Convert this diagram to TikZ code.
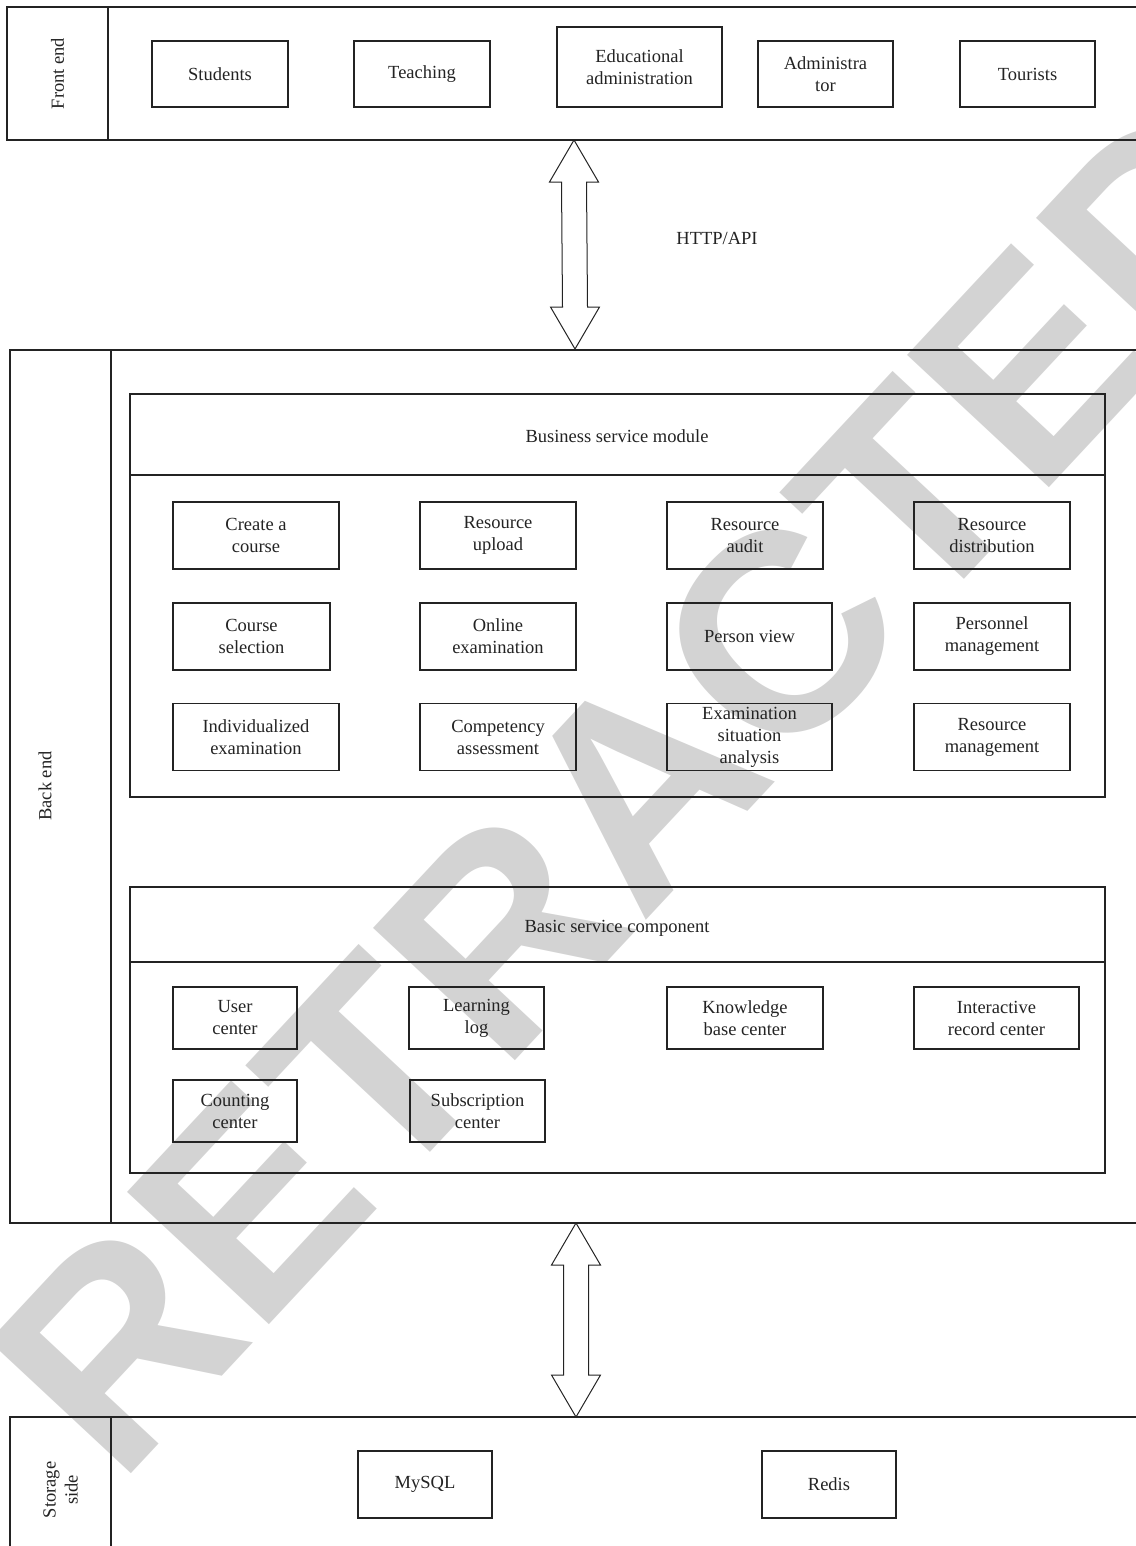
\documentclass[tikz,border=0pt]{standalone}
\usepackage{fontspec}
\setmainfont{Liberation Serif}
\newfontfamily\wmfont{Liberation Sans}
\usetikzlibrary{calc}
\definecolor{wm}{RGB}{211,211,211}
\definecolor{ink}{RGB}{35,35,35}
\tikzset{
  frame/.style={draw=ink, line width=1.2bp},
  box/.style={draw=ink, line width=1.2bp, inner sep=0pt, outer sep=0pt, align=center, minimum height=67bp},
  lbl/.style={inner sep=0pt, align=center},
  arr/.style={draw=ink, line width=1bp, line join=miter},
  wmtext/.style={text=wm, inner sep=0pt, font=\wmfont\bfseries\fontsize{282bp}{282bp}\selectfont}
}
\newcommand\dblarrow[2]{%
  \draw[arr] (#1) -- ($(#1)+(24.5,42)$) -- ($(#1)+(12.5,42)$) -- ($(#2)+(12.5,-42)$)
    -- ($(#2)+(24.5,-42)$) -- (#2) -- ($(#2)+(-24.5,-42)$) -- ($(#2)+(-12.5,-42)$)
    -- ($(#1)+(-12.5,42)$) -- ($(#1)+(-24.5,42)$) -- cycle;}
\begin{document}
\begin{tikzpicture}[x=1bp, y=-1bp, font=\fontsize{18.5bp}{22bp}\selectfont, text=ink]
\useasboundingbox (0,0) rectangle (1135,1546);
% watermark
\node[wmtext, rotate=47] (wmark) at (640,785) {RETRACTED};

% ---------- Front end ----------
\draw[frame] (1140,7) -| (7,140) -- (1140,140);
\draw[frame] (108,7) -- (108,140);
\node[lbl, rotate=90] (fel) at (57.5,73.5) {Front end};
\node[box, minimum width=136bp, minimum height=66bp] (students) at (220,74) {Students};
\node[box, minimum width=136bp, minimum height=66bp] (teaching) at (422,74) {Teaching};
\node[box, minimum width=165bp, minimum height=80bp] (educ) at (639.5,67) {Educational\\administration};
\node[box, minimum width=135bp, minimum height=66bp] (admin) at (825.5,74) {Administra\\tor};
\node[box, minimum width=135bp, minimum height=66bp] (tourists) at (1027.5,74) {Tourists};

% ---------- Arrow 1 ----------
\coordinate (fe) at (574,140);
\coordinate (be) at (575,349);
\dblarrow{fe}{be}
\node[lbl] (http) at (717,238) {HTTP/API};

% ---------- Back end ----------
\draw[frame] (1140,350) -| (10,1223) -- (1140,1223);
\draw[frame] (111,350) -- (111,1223);
\node[lbl, rotate=90] (bel) at (45,786) {Back end};

% Business service module
\draw[frame] (130,394) rectangle (1105,797);
\draw[frame] (130,475) -- (1105,475);
\node[lbl] (bsm) at (617,436) {Business service module};

\node[box, minimum width=166bp] (b11) at (256,535.5) {Create a\\course};
\node[box, minimum width=156bp] (b12) at (498,535.5) {Resource\\upload};
\node[box, minimum width=156bp] (b13) at (745,535.5) {Resource\\audit};
\node[box, minimum width=156bp] (b14) at (992,535.5) {Resource\\distribution};

\node[box, minimum width=157bp] (b21) at (251.5,636.5) {Course\\selection};
\node[box, minimum width=156bp] (b22) at (498,636.5) {Online\\examination};
\node[box, minimum width=165bp] (b23) at (749.5,636.5) {Person view};
\node[box, minimum width=156bp] (b24) at (992,636.5) {Personnel\\management};

\node[box, minimum width=166bp] (b31) at (256,737) {Individualized\\examination};
\node[box, minimum width=156bp] (b32) at (498,737) {Competency\\assessment};
\node[box, minimum width=165bp] (b33) at (749.5,737) {Examination\\situation\\analysis};
\node[box, minimum width=156bp] (b34) at (992,737) {Resource\\management};

% Basic service component
\draw[frame] (130,887) rectangle (1105,1173);
\draw[frame] (130,962) -- (1105,962);
\node[lbl] (bsc) at (617,928) {Basic service component};

\node[box, minimum width=124bp, minimum height=62bp] (c11) at (235,1018) {User\\center};
\node[box, minimum width=135bp, minimum height=62bp] (c12) at (476.5,1018) {Learning\\log};
\node[box, minimum width=156bp, minimum height=62bp] (c13) at (745,1018) {Knowledge\\base center};
\node[box, minimum width=165bp, minimum height=62bp] (c14) at (996.5,1018) {Interactive\\record center};
\node[box, minimum width=124bp, minimum height=62bp] (c21) at (235,1111) {Counting\\center};
\node[box, minimum width=135bp, minimum height=62bp] (c22) at (477.5,1111) {Subscription\\center};

% ---------- Arrow 2 ----------
\coordinate (be2) at (576,1223);
\coordinate (st) at (576,1417);
\dblarrow{be2}{st}

% ---------- Storage side ----------
\draw[frame] (1140,1417) -- (10,1417) -- (10,1560);
\draw[frame] (111,1417) -- (111,1560);
\node[lbl, rotate=90] (ssl) at (60.5,1490) {Storage\\side};
\node[box, minimum width=134bp] (mysql) at (425,1484.5) {MySQL};
\node[box, minimum width=134bp] (redis) at (829,1484.5) {Redis};
\end{tikzpicture}
\end{document}
